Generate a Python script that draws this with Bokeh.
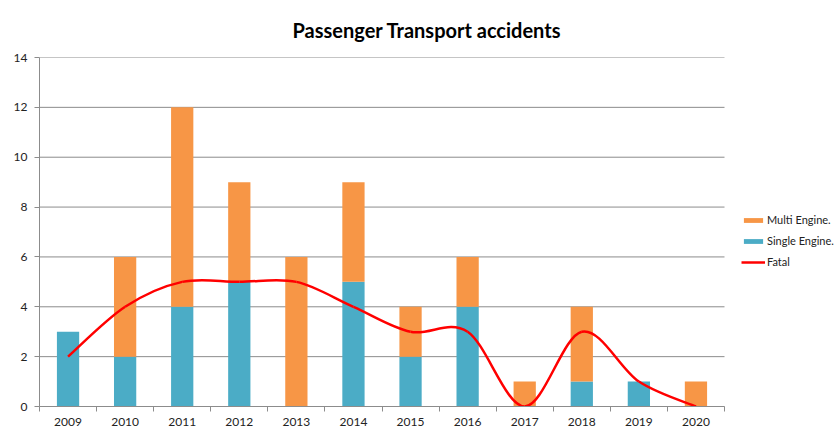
from bokeh.plotting import figure
from bokeh.models import (ColumnDataSource, Range1d, FixedTicker, Legend, LegendItem)
from bokeh.embed import file_html
from bokeh.resources import INLINE

# ---- data ----
years = ["2009", "2010", "2011", "2012", "2013", "2014", "2015", "2016", "2017", "2018", "2019", "2020"]
single_engine = [3, 2, 4, 5, 0, 5, 2, 4, 0, 1, 1, 0]
multi_engine = [0, 4, 8, 4, 6, 4, 2, 2, 1, 3, 0, 1]
fatal = [2, 4, 5, 5, 5, 4, 3, 3, 0, 3, 1, 0]
y_ticks = [0, 2, 4, 6, 8, 10, 12, 14]

BLUE = "#4BACC6"
ORANGE = "#F79646"
GRAY = "#8c8c8c"
FONT = "Lato"

n = len(years)
xs = [i + 0.5 for i in range(n)]

# layout: the plotting frame extends under the legend; categories occupy 685 px of 796
X_END = n * 796 / 685

src = ColumnDataSource(dict(x=xs, single=single_engine, multi=multi_engine))

p = figure(width=836, height=428, output_backend="svg", toolbar_location=None,
           x_range=Range1d(0, X_END), y_range=Range1d(0, 14),
           min_border_left=39, min_border_right=1, min_border_top=57, min_border_bottom=21)
p.outline_line_color = None
p.border_fill_color = "white"

p.title.text = "Passenger Transport accidents"
p.title.align = "left"
p.title.offset = 253
p.title.text_font = FONT
p.title.text_font_style = "bold"
p.title.text_font_size = "20px"
p.title.text_color = "#000000"
p.title.standoff = 31

# horizontal gridlines limited to the category area
p.segment(x0=0, x1=n, y0=y_ticks, y1=y_ticks, line_color=GRAY, line_width=1)

bars = p.vbar_stack(["single", "multi"], x="x", width=0.39, source=src,
                    color=[BLUE, ORANGE], line_color=None)

# smooth (Excel-like) curve through fatal points: cubic bezier with Catmull-Rom control points
x0, y0, x1, y1, cx0, cy0, cx1, cy1 = [], [], [], [], [], [], [], []
for i in range(n - 1):
    xa, ya = xs[i], fatal[i]
    xb, yb = xs[i + 1], fatal[i + 1]
    xp, yp = (xs[i - 1], fatal[i - 1]) if i > 0 else (xa, ya)
    xn, yn = (xs[i + 2], fatal[i + 2]) if i + 2 < n else (xb, yb)
    x0.append(xa); y0.append(ya); x1.append(xb); y1.append(yb)
    cx0.append(xa + (xb - xp) / 6); cy0.append(ya + (yb - yp) / 6)
    cx1.append(xb - (xn - xa) / 6); cy1.append(yb - (yn - ya) / 6)
fatal_r = p.bezier(x0=x0, y0=y0, x1=x1, y1=y1, cx0=cx0, cy0=cy0, cx1=cx1, cy1=cy1,
                   line_color="#FF0000", line_width=2.5)

# axes
xa_ = p.xaxis[0]
xa_.bounds = (0, n)
xa_.ticker = FixedTicker(ticks=xs, minor_ticks=list(range(n + 1)))
xa_.major_label_overrides = {x: y for x, y in zip(xs, years)}
xa_.major_tick_out = 0
xa_.major_tick_in = 0
xa_.minor_tick_out = 5
xa_.minor_tick_in = 0
xa_.minor_tick_line_color = GRAY
xa_.axis_line_color = GRAY
xa_.major_label_text_font = FONT
xa_.major_label_text_font_size = "12px"
xa_.major_label_text_color = "#222222"
xa_.major_label_standoff = 6

ya_ = p.yaxis[0]
ya_.ticker = FixedTicker(ticks=y_ticks, minor_ticks=[])
ya_.major_tick_out = 5
ya_.major_tick_in = 0
ya_.major_tick_line_color = GRAY
ya_.axis_line_color = GRAY
ya_.major_label_text_font = FONT
ya_.major_label_text_font_size = "12px"
ya_.major_label_text_color = "#222222"
ya_.major_label_standoff = 7

p.xgrid.grid_line_color = None
p.ygrid.grid_line_color = None

legend = Legend(items=[LegendItem(label="Multi Engine.", renderers=[bars[1]]),
                       LegendItem(label="Single Engine.", renderers=[bars[0]]),
                       LegendItem(label="Fatal", renderers=[fatal_r])],
                location=(702, 138), padding=0, margin=0, spacing=8,
                glyph_width=24, glyph_height=6, label_standoff=2,
                label_text_font=FONT, label_text_font_size="11px",
                label_text_color="#222222", border_line_color=None,
                background_fill_alpha=0)
p.add_layout(legend, "center")

open("out.html", "w").write(file_html(p, INLINE))
